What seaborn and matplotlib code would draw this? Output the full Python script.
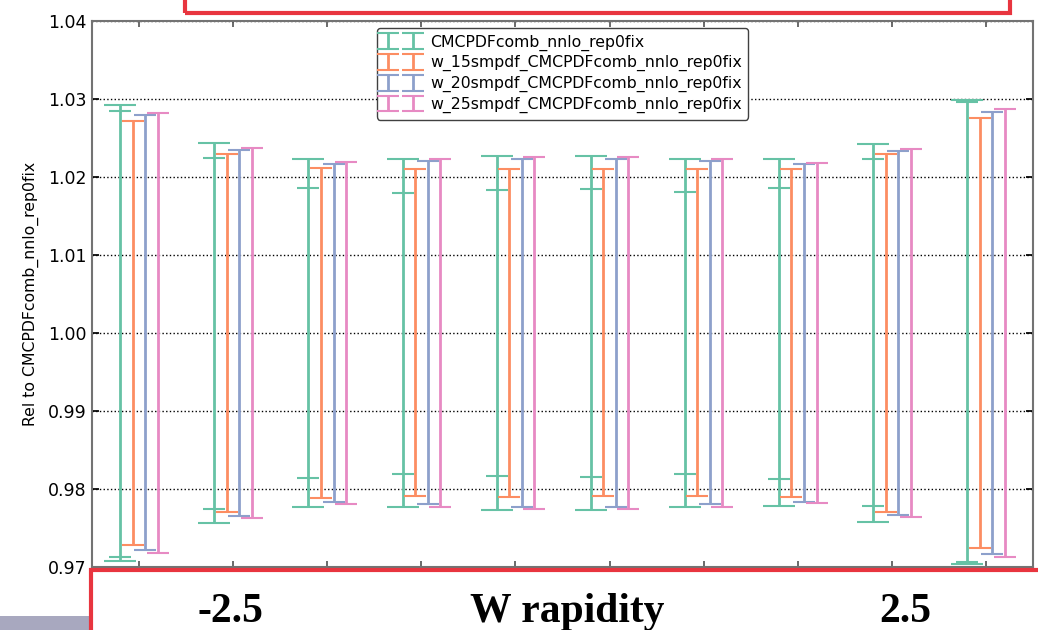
import numpy as np
import matplotlib
matplotlib.use("Agg")
import matplotlib.pyplot as plt
from matplotlib.patches import Rectangle
from matplotlib.lines import Line2D
from matplotlib.container import ErrorbarContainer
from matplotlib.legend_handler import HandlerErrorbar
import seaborn as sns

# W rapidity bins (10 bins between -2.5 and 2.5)
bins = np.arange(10)

labels = [
    "CMCPDFcomb_nnlo_rep0fix",
    "w_15smpdf_CMCPDFcomb_nnlo_rep0fix",
    "w_20smpdf_CMCPDFcomb_nnlo_rep0fix",
    "w_25smpdf_CMCPDFcomb_nnlo_rep0fix",
]

# Reference set: outer (68% CL) and inner (1 sigma) bands
ref_hi = [1.02923, 1.02436, 1.02231, 1.02231, 1.02269, 1.02269, 1.02231, 1.02226, 1.02423, 1.02991]
ref_lo = [0.97077, 0.97564, 0.97769, 0.97769, 0.97735, 0.97735, 0.97769, 0.97778, 0.97572, 0.97040]
ref_sig_hi = [1.02846, 1.02239, 1.01863, 1.01790, 1.01828, 1.01841, 1.01803, 1.01863, 1.02231, 1.02965]
ref_sig_lo = [0.97128, 0.97747, 0.98136, 0.98187, 0.98170, 0.98155, 0.98196, 0.98134, 0.97778, 0.97065]

# Reduced sets
w15_hi = [1.02713, 1.02295, 1.02110, 1.02097, 1.02097, 1.02097, 1.02097, 1.02106, 1.02290, 1.02756]
w15_lo = [0.97286, 0.97705, 0.97888, 0.97905, 0.97892, 0.97905, 0.97905, 0.97892, 0.97709, 0.97244]
w20_hi = [1.02790, 1.02341, 1.02167, 1.02200, 1.02231, 1.02231, 1.02200, 1.02162, 1.02333, 1.02828]
w20_lo = [0.97213, 0.97654, 0.97833, 0.97803, 0.97769, 0.97769, 0.97803, 0.97837, 0.97667, 0.97167]
w25_hi = [1.02820, 1.02372, 1.02192, 1.02235, 1.02256, 1.02256, 1.02235, 1.02180, 1.02363, 1.02867]
w25_lo = [0.97179, 0.97628, 0.97811, 0.97764, 0.97744, 0.97744, 0.97764, 0.97815, 0.97636, 0.97128]

yticks = [0.97, 0.98, 0.99, 1.00, 1.01, 1.02, 1.03, 1.04]
slide_labels = ["-2.5", "W rapidity", "2.5"]

sns.set_theme(style="white", palette="Set2")
plt.rcParams["font.family"] = ["DejaVu Sans"]
plt.rcParams.update({"text.color": "black", "axes.labelcolor": "black",
                     "xtick.color": "black", "ytick.color": "black"})
colors = sns.color_palette("Set2", 4)

CAP = 7.6        # cap half-width (pt) for the reduced sets and legend keys
CAP_WIDE = 11.5  # cap half-width (pt) for the reference 68% CL band

W, H = 1038, 630
fig = plt.figure(figsize=(W / 100, H / 100), dpi=100)
ax = fig.add_axes([92 / W, 1 - 567 / H, 941 / W, 546 / H])


def band(ax, x, lo, hi, color, cap, label=None, lw=2.0):
    lo = np.asarray(lo)
    hi = np.asarray(hi)
    mid = (lo + hi) / 2
    return ax.errorbar(x, mid, yerr=[mid - lo, hi - mid], fmt="none",
                       ecolor=color, elinewidth=lw, capsize=cap,
                       capthick=1.5, label=label)


class UniformCapHandler(HandlerErrorbar):
    """Legend key with the same cap width for every series."""

    def create_artists(self, *args, **kwargs):
        artists = super().create_artists(*args, **kwargs)
        for a in artists:
            if isinstance(a, Line2D) and a.get_marker() == "_":
                a.set_markersize(2 * CAP)
        return artists


offsets = np.linspace(-0.2, 0.2, 4)
series = [(ref_lo, ref_hi), (w15_lo, w15_hi), (w20_lo, w20_hi), (w25_lo, w25_hi)]
for i, ((lo, hi), lab) in enumerate(zip(series, labels)):
    cap = CAP_WIDE if i == 0 else CAP
    band(ax, bins + offsets[i], lo, hi, colors[i], cap, label=lab)
    if i == 0:
        band(ax, bins + offsets[i], ref_sig_lo, ref_sig_hi, colors[i], CAP, lw=0)

ax.set_xlim(-0.5, 9.5)
ax.set_ylim(0.97, 1.04)
ax.set_yticks(yticks)
ax.set_yticklabels([f"{v:.2f}" for v in yticks])
ax.set_xticks(bins)
ax.tick_params(axis="x", which="both", direction="in", length=4, top=True,
               bottom=True, labelbottom=False, color="0.35")
ax.tick_params(axis="y", which="both", direction="in", length=5, left=True,
               right=True, labelsize=12.5, color="black", pad=4)
ax.yaxis.grid(True, linestyle=":", color="black", linewidth=1.0)
ax.xaxis.grid(False)
for s in ax.spines.values():
    s.set_color("0.45")
    s.set_linewidth(1.5)
ax.set_ylabel("Rel to CMCPDFcomb_nnlo_rep0fix", fontsize=11.3, labelpad=6)

leg = ax.legend(loc="upper center", numpoints=2, fontsize=11.3,
                handlelength=2.2, borderaxespad=0.45, fancybox=True,
                framealpha=1, edgecolor="0.25", labelspacing=0.3,
                handler_map={ErrorbarContainer: UniformCapHandler()})
leg.get_frame().set_linewidth(1.0)

# Slide decorations around the plot
red = "#e8353f"
fig.patches.append(Rectangle((0, 0), 92 / W, 14 / H, transform=fig.transFigure,
                             facecolor="#a8a8bf", edgecolor="none", zorder=5))
fig.patches.append(Rectangle((91 / W, -0.1), 1.1, 0.1 + (H - 570) / H,
                             transform=fig.transFigure, facecolor="white",
                             edgecolor=red, linewidth=3.0, zorder=6))
fig.patches.append(Rectangle((185 / W, 1 - 13 / H), (1010 - 185) / W, 0.1,
                             transform=fig.transFigure, facecolor="none",
                             edgecolor=red, linewidth=3.0, zorder=6))
for txt, xp in zip(slide_labels, [230, 567, 905]):
    fig.text(xp / W, 1 - 622 / H, txt, ha="center", va="baseline", color="black",
             fontsize=30, fontweight="bold", family="Liberation Serif", zorder=7)

fig.savefig("out.png", dpi=100)
